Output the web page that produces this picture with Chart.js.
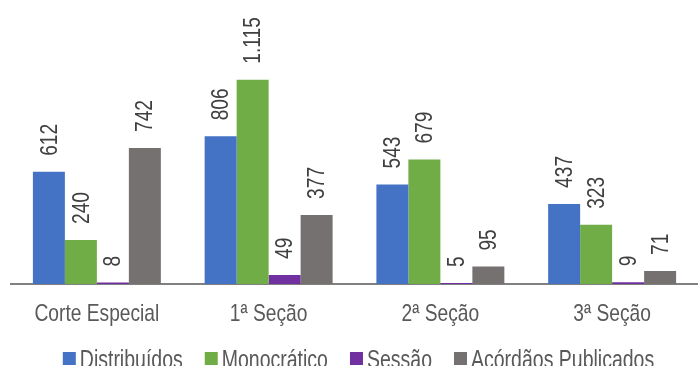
<!DOCTYPE html>
<html lang="pt-BR">
<head>
<meta charset="UTF-8">
<title>Chart</title>
<script src="https://cdn.jsdelivr.net/npm/chart.js"></script>
<style>
    * { margin: 0; padding: 0; box-sizing: border-box; }
    body { background: #fff; overflow: hidden; }
    .wrap { width: 698px; height: 366px; }
</style>
</head>
<body>
<div class="wrap"><canvas id="myChart"></canvas></div>
<script>
    const categories = ['Corte Especial', '1ª Seção', '2ª Seção', '3ª Seção'];
    const distribuidos = [612, 806, 543, 437];
    const monocratico = [240, 1115, 679, 323];
    const sessao = [8, 49, 5, 9];
    const acordaos = [742, 377, 95, 71];

    const fontFamily = "'Liberation Sans', Arial, sans-serif";
    const narrow = 0.8; // the original uses a condensed face, squeeze text horizontally

    function narrowText(ctx, txt, x, y, squeeze) {
        ctx.save();
        ctx.translate(x, y);
        ctx.scale(squeeze || narrow, 1);
        ctx.fillText(txt, 0, 0);
        ctx.restore();
    }

    // rotated value labels above each bar
    const barLabels = {
        id: 'barLabels',
        afterDatasetsDraw(chart) {
            const ctx = chart.ctx;
            ctx.save();
            ctx.font = '24px ' + fontFamily;
            ctx.fillStyle = '#404040';
            ctx.textAlign = 'left';
            ctx.textBaseline = 'middle';
            chart.data.datasets.forEach((ds, i) => {
                chart.getDatasetMeta(i).data.forEach((bar, j) => {
                    const txt = ds.data[j].toLocaleString('pt-BR');
                    ctx.save();
                    ctx.translate(bar.x + 1, bar.y - 16);
                    ctx.rotate(-Math.PI / 2);
                    narrowText(ctx, txt, 0, 0);
                    ctx.restore();
                });
            });
            ctx.restore();
        }
    };

    // category labels and legend, drawn with the condensed look
    const axisAndLegend = {
        id: 'axisAndLegend',
        afterDraw(chart) {
            const ctx = chart.ctx;
            const xScale = chart.scales.x;
            const area = chart.chartArea;
            ctx.save();
            ctx.font = '24px ' + fontFamily;
            ctx.fillStyle = '#595959';
            ctx.textAlign = 'center';
            ctx.textBaseline = 'alphabetic';
            categories.forEach((c, i) => {
                narrowText(ctx, c, xScale.getPixelForTick(i), area.bottom + 37);
            });

            // legend
            const squeeze = 0.78;
            ctx.font = '25px ' + fontFamily;
            const box = 13, gapText = 4, gapItem = 22;
            const items = chart.data.datasets.map(ds => ({
                label: ds.label,
                color: ds.backgroundColor,
                w: ctx.measureText(ds.label).width * squeeze
            }));
            let total = 0;
            items.forEach((it, k) => {
                total += box + gapText + it.w + (k < items.length - 1 ? gapItem : 0);
            });
            let x = (area.left + area.right) / 2 + 4 - total / 2;
            const baseY = area.bottom + 84;
            ctx.textAlign = 'left';
            items.forEach(it => {
                ctx.fillStyle = it.color;
                ctx.fillRect(x, baseY - 16, box, 13);
                ctx.fillStyle = '#595959';
                narrowText(ctx, it.label, x + box + gapText, baseY, squeeze);
                x += box + gapText + it.w + gapItem;
            });
            ctx.restore();
        }
    };

    new Chart(document.getElementById('myChart'), {
        type: 'bar',
        data: {
            labels: categories,
            datasets: [
                { label: 'Distribuídos', data: distribuidos, backgroundColor: '#4472C4' },
                { label: 'Monocrático', data: monocratico, backgroundColor: '#70AD47' },
                { label: 'Sessão', data: sessao, backgroundColor: '#7030A0' },
                { label: 'Acórdãos Publicados', data: acordaos, backgroundColor: '#767171' }
            ]
        },
        plugins: [barLabels, axisAndLegend],
        options: {
            responsive: true,
            maintainAspectRatio: false,
            animation: false,
            datasets: {
                bar: { categoryPercentage: 0.745, barPercentage: 1.0 }
            },
            layout: { padding: { left: 11, right: 0, top: 0, bottom: 82 } },
            plugins: {
                tooltip: { enabled: false },
                legend: { display: false }
            },
            scales: {
                x: {
                    grid: { display: false, drawTicks: false },
                    border: { color: '#808080', width: 2 },
                    ticks: { display: false }
                },
                y: {
                    display: false,
                    min: 0,
                    max: 1550
                }
            }
        }
    });
</script>
</body>
</html>
